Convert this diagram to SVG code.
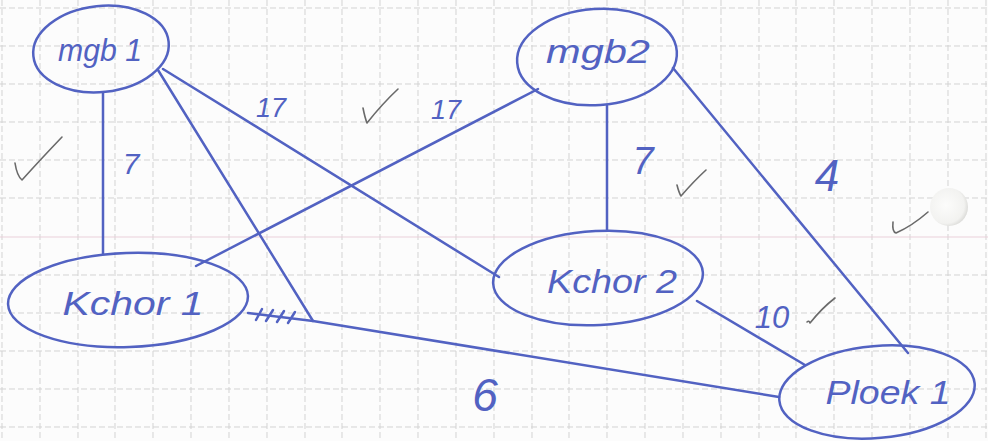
<svg xmlns="http://www.w3.org/2000/svg" width="988" height="441" viewBox="0 0 988 441">
  <defs>
    <style>
      .grid { stroke: #d3d3d3; stroke-width: 1; stroke-dasharray: 6 3; fill: none; }
      .margin { stroke: #ead0d9; stroke-width: 1.1; fill: none; }
      .pen { stroke: #5262c2; stroke-width: 2.5; fill: none; stroke-linecap: round; stroke-linejoin: round; }
      .node { stroke: #5262c2; stroke-width: 2.5; fill: none; }
      .label { font-family: "Liberation Sans", "DejaVu Sans", sans-serif; font-style: italic; fill: #5262c2; }
      .name { font-size: 33px; }
      .tick { stroke: #6a6a6a; stroke-width: 1.6; fill: none; stroke-linecap: round; stroke-linejoin: round; }
    </style>
    <radialGradient id="hole" cx="0.42" cy="0.45" r="0.6">
      <stop offset="0" stop-color="#fcfcfb"/>
      <stop offset="0.8" stop-color="#f2f2f0"/>
      <stop offset="1" stop-color="#dadad7"/>
    </radialGradient>
  </defs>

  <!-- paper -->
  <rect width="988" height="441" fill="#fcfcfc"/>
  <g id="grid">
    <path class="grid" d="M2 0V441M40 0V441M78 0V441M115 0V441M153 0V441M191 0V441M229 0V441M267 0V441M305 0V441M342 0V441M380 0V441M418 0V441M456 0V441M494 0V441M532 0V441M569 0V441M607 0V441M645 0V441M683 0V441M721 0V441M759 0V441M796 0V441M834 0V441M872 0V441M910 0V441M948 0V441M986 0V441"/>
    <path class="grid" d="M0 8H988M0 46H988M0 84H988M0 122H988M0 160H988M0 198H988M0 275H988M0 313H988M0 351H988M0 389H988M0 427H988"/>
    <path class="margin" d="M0 237H988"/>
  </g>

  <!-- punched hole -->
  <circle cx="949" cy="207" r="19" fill="url(#hole)"/>

  <!-- edges -->
  <g id="connectors">
    <path class="pen" d="M103 93 L103 254"/>
    <path class="pen" d="M158 70 L313 321"/>
    <path class="pen" d="M163 69 L499 277"/>
    <path class="pen" d="M538 89 L196 266"/>
    <path class="pen" d="M607 106 L607 230"/>
    <path class="pen" d="M673 68 L908 353"/>
    <path class="pen" d="M697 301 L805 365"/>
    <path class="pen" d="M248 313 L313 321 L779 397"/>
    <!-- hatch marks -->
    <path class="pen" stroke-width="1.8" d="M256 320 L262 309 M266 321 L273 310 M277 322 L284 311 M288 323 L295 312"/>
  </g>

  <!-- nodes -->
  <g id="mgb1">
    <ellipse class="node" cx="101" cy="49" rx="68" ry="43" transform="rotate(-6 101 49)"/>
    <text class="label" font-size="31" x="100" y="61" text-anchor="middle" textLength="84" lengthAdjust="spacingAndGlyphs">mgb 1</text>
  </g>
  <g id="mgb2">
    <ellipse class="node" cx="597" cy="57" rx="80" ry="48" transform="rotate(-4 597 57)"/>
    <text class="label name" x="598" y="63" text-anchor="middle" textLength="104" lengthAdjust="spacingAndGlyphs">mgb2</text>
  </g>
  <g id="kchor1">
    <ellipse class="node" cx="128" cy="300" rx="120" ry="47" transform="rotate(-2 128 300)"/>
    <text class="label name" x="133" y="315" text-anchor="middle" textLength="141" lengthAdjust="spacingAndGlyphs">Kchor 1</text>
  </g>
  <g id="kchor2">
    <ellipse class="node" cx="598" cy="278" rx="105" ry="47" transform="rotate(-3 598 278)"/>
    <text class="label name" x="612" y="293" text-anchor="middle" textLength="130" lengthAdjust="spacingAndGlyphs">Kchor 2</text>
  </g>
  <g id="ploek1">
    <ellipse class="node" cx="877" cy="392" rx="98" ry="46" transform="rotate(-5 877 392)"/>
    <text class="label name" x="888" y="404" text-anchor="middle" textLength="125" lengthAdjust="spacingAndGlyphs">Ploek 1</text>
  </g>

  <!-- edge weights -->
  <g id="weights">
    <text class="label" x="271" y="117" font-size="27" text-anchor="middle">17</text>
    <text class="label" x="131" y="174" font-size="30" text-anchor="middle">7</text>
    <text class="label" x="446" y="119" font-size="27" text-anchor="middle">17</text>
    <text class="label" x="643" y="174" font-size="38" text-anchor="middle">7</text>
    <text class="label" x="827" y="191" font-size="44" text-anchor="middle">4</text>
    <text class="label" x="772" y="328" font-size="31" text-anchor="middle">10</text>
    <text class="label" x="485" y="411" font-size="46" text-anchor="middle">6</text>
  </g>

  <!-- check marks -->
  <g id="checks">
    <path class="tick" d="M15 163 Q17 176 22 180 Q40 160 62 137"/>
    <path class="tick" d="M363 108 Q365 118 367 123 Q382 104 398 89"/>
    <path class="tick" d="M677 185 Q679 193 681 196 Q694 181 706 170"/>
    <path class="tick" d="M807 322 Q809 320 810 323 Q822 308 835 298"/>
    <path class="tick" d="M893 222 Q892 232 896 233 Q912 226 928 212"/>
  </g>
</svg>
